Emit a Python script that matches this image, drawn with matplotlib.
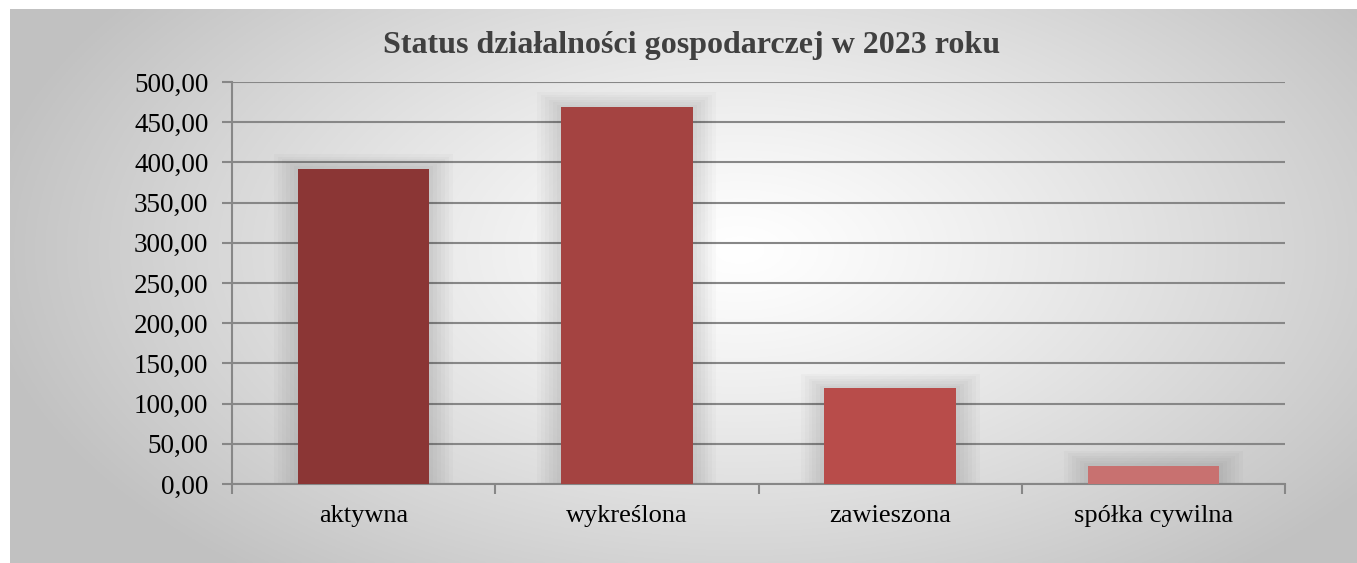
import numpy as np
import matplotlib
matplotlib.use('Agg')
import matplotlib.pyplot as plt
from matplotlib.ticker import FuncFormatter

categories = ['aktywna', 'wykreślona', 'zawieszona', 'spółka cywilna']
values = [392, 469, 119, 23]
bar_colors = ['#8B3635', '#A44341', '#B84C4A', '#C87170']
title = 'Status działalności gospodarczej w 2023 roku'
y_ticks = np.arange(0, 501, 50)

plt.rcParams['font.family'] = ['Liberation Serif', 'DejaVu Serif']

W, H = 1357, 563
fig = plt.figure(figsize=(W / 100, H / 100), dpi=100)
fig.patch.set_facecolor('white')

# tło z gradientem radialnym (biały środek, szare brzegi)
bg = fig.add_axes([10 / W, 0, 1 - 10 / W, 1 - 9 / H])
bg.set_axis_off()
xs = np.linspace(10, W, 600)
ys = np.linspace(9, H, 300)
X, Y = np.meshgrid(xs, ys)
r = np.sqrt(((X - 740) / 760) ** 2 + ((Y - 250) / 420) ** 2)
g = 1 - 0.24 * np.clip(r, 0, 1) ** 1.2
bg.imshow(np.dstack([g, g, g]), aspect='auto', extent=[0, 1, 0, 1])
bg.set_xlim(0, 1)
bg.set_ylim(0, 1)

ax = fig.add_axes([232 / W, 79 / H, (1285 - 232) / W, (484 - 82) / H])
ax.set_facecolor('none')
x = np.arange(len(categories))

# miękki cień wokół słupków
for k in range(6):
    ax.bar(x, np.array(values) + 3 + 3 * k, width=0.5 + 0.03 * (k + 1),
           color='black', alpha=0.018, zorder=2, linewidth=0)

ax.bar(x, values, width=0.5, color=bar_colors, zorder=3, linewidth=0)

ax.set_xlim(-0.5, len(categories) - 0.5)
ax.set_ylim(0, 500)
ax.set_yticks(y_ticks)
ax.yaxis.set_major_formatter(FuncFormatter(lambda v, p: f'{v:.2f}'.replace('.', ',')))
ax.grid(axis='y', color='#878787', linewidth=1.5, zorder=1)
ax.set_axisbelow(True)

ax.set_xticks(x)
ax.set_xticklabels(categories)
ax.set_xticks(np.arange(-0.5, len(categories)), minor=True)
ax.tick_params(axis='x', which='major', length=0, pad=15, labelsize=19)
ax.tick_params(axis='x', which='minor', length=7, width=1.5, color='#878787', direction='out')
ax.tick_params(axis='y', length=7, width=1.5, color='#878787', pad=10, labelsize=19.5)

for side in ['top', 'right']:
    ax.spines[side].set_visible(False)
for side in ['left', 'bottom']:
    ax.spines[side].set_color('#878787')
    ax.spines[side].set_linewidth(1.5)

fig.text(692 / W, 1 - 46 / H, title, ha='center', va='center', fontsize=23,
         fontweight='bold', color='#404040')

fig.savefig('out.png', dpi=100)
